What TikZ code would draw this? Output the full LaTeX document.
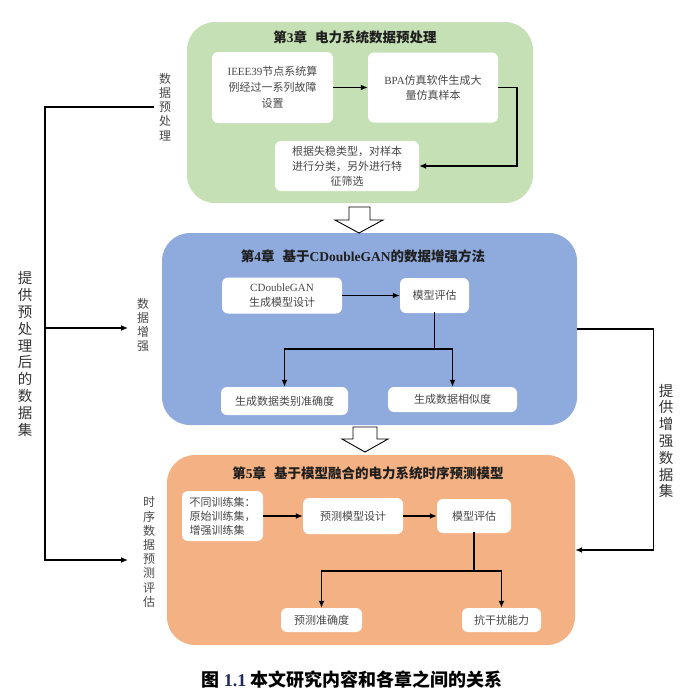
\documentclass[tikz,border=0pt]{standalone}
\usepackage{fontspec}
\setmainfont{Noto Sans CJK SC}
\newfontfamily\latfont{Liberation Serif}
\usetikzlibrary{arrows.meta}
\definecolor{grn}{HTML}{C5E0B4}
\definecolor{blu}{HTML}{8FAADC}
\definecolor{org}{HTML}{F4B183}
\definecolor{navy}{HTML}{1F2A5A}
\newcommand\lt[1]{{\latfont #1}}
\begin{document}
\begin{tikzpicture}[x=1pt,y=-1pt,
 panel/.style={rounded corners=28pt, inner sep=0pt, draw=none},
 wbox/.style={fill=white, rounded corners=6pt, inner sep=0pt, align=center, text=black!72, font=\fontsize{11}{15}\selectfont},
 ttl/.style={font=\fontsize{13.5}{16}\bfseries\selectfont, text=black!88},
 side/.style={align=center, text=black!72, font=\fontsize{12}{14.2}\selectfont, inner sep=5pt},
 bigside/.style={align=center, text=black!80, font=\fontsize{14.5}{16.8}\selectfont, inner sep=2pt},
 arr/.style={-{Latex[length=7pt,width=6pt]}, line width=1.8pt},
 ln/.style={line width=1.8pt, line cap=rect},
 oarr/.style={-{Latex[length=7pt,width=6pt]}, line width=1.4pt},
 hollow/.style={fill=white, draw=black, line width=0.9pt, line join=miter}
]
\useasboundingbox (0,0) rectangle (700,697);

% panels
\node[panel, fill=grn, minimum width=346pt, minimum height=181pt] (p3) at (360,112.5) {};
\node[panel, fill=blu, minimum width=415pt, minimum height=192pt] (p4) at (369.5,329) {};
\node[panel, fill=org, minimum width=408pt, minimum height=190pt] (p5) at (371,550) {};

% hollow arrows
\draw[hollow] (349,207) -- (370,207) -- (370,220) -- (383,220) -- (359,233) -- (335,220) -- (349,220) -- cycle;
\draw[hollow] (353,427) -- (377,427) -- (377,439) -- (388,439) -- (365,452) -- (342,439) -- (353,439) -- cycle;

% chapter 3
\node[ttl] (t3) at (355,37) {第\lt{3}章\hspace{0.6em}电力系统数据预处理};
\node[wbox, minimum width=121pt, minimum height=71pt, font=\fontsize{11}{16}\selectfont] (a) at (272.5,87.5) {\lt{IEEE39}节点系统算\\例经过一系列故障\\设置};
\node[wbox, minimum width=130pt, minimum height=70pt] (b) at (433,87.5) {\lt{BPA}仿真软件生成大\\量仿真样本};
\node[wbox, minimum width=144pt, minimum height=50pt] (c) at (347,166) {根据失稳类型，对样本\\进行分类，另外进行特\\征筛选};
\draw[arr] (a.east) -- (b.west);
\draw[arr] (b.east) -- ++(19,0) |- (c.east);

% chapter 4
\node[ttl] (t4) at (363,256) {第\lt{4}章\hspace{0.6em}基于\lt{CDoubleGAN}的数据增强方法};
\node[wbox, minimum width=120pt, minimum height=36pt] (d) at (282,295.5) {\lt{CDoubleGAN}\\生成模型设计};
\node[wbox, minimum width=69pt, minimum height=35pt] (e) at (434.5,295.5) {模型评估};
\node[wbox, minimum width=127pt, minimum height=28pt] (f) at (284.5,401) {生成数据类别准确度};
\node[wbox, minimum width=129pt, minimum height=25pt] (g) at (452.5,399.5) {生成数据相似度};
\draw[arr] (d.east) -- (e.west);
\draw[ln] (e.south) -- ++(0,36) coordinate (eb);
\draw[arr] (eb) -| (f.north);
\draw[arr] (eb) -| (g.north);

% chapter 5
\node[ttl] (t5) at (368,473) {第\lt{5}章\hspace{0.6em}基于模型融合的电力系统时序预测模型};
\node[wbox, minimum width=81pt, minimum height=50pt, align=left, font=\fontsize{11}{14}\selectfont] (h) at (222.5,516) {不同训练集：\\原始训练集，\\增强训练集};
\node[wbox, minimum width=100pt, minimum height=36pt] (i) at (353,516) {预测模型设计};
\node[wbox, minimum width=74pt, minimum height=34pt] (j) at (474,516) {模型评估};
\node[wbox, minimum width=81pt, minimum height=24pt] (k) at (321.5,620) {预测准确度};
\node[wbox, minimum width=79pt, minimum height=24pt] (l) at (501.5,620) {抗干扰能力};
\draw[arr] (h.east) -- (i.west);
\draw[arr] (i.east) -- (j.west);
\draw[ln] (j.south) -- ++(0,38) coordinate (jb);
\draw[arr] (jb) -| (k.north);
\draw[arr] (jb) -| (l.north);

% side labels
\node[side] (s3) at (165,107) {数\\据\\预\\处\\理};
\node[side] (s4) at (143,325) {数\\据\\增\\强};
\node[side] (s5) at (149,552) {时\\序\\数\\据\\预\\测\\评\\估};
\node[bigside] (bl) at (25,354) {提\\供\\预\\处\\理\\后\\的\\数\\据\\集};
\node[bigside] (br) at (666,441) {提\\供\\增\\强\\数\\据\\集};

% left connector
\coordinate (lt) at (45,107);
\coordinate (lb) at (45,560);
\coordinate (lm) at (45,328);
\coordinate (e2) at (128,328);
\coordinate (e3) at (128,560);
\draw[oarr] (s3.west) -- (lt) -- (lb) -- (e3);
\draw[oarr] (lm) -- (e2);

% right connector
\draw[oarr] (p4.east) -- ++(76,0) |- (p5.east);

% caption
\node[font=\fontsize{18}{20}\bfseries\selectfont] (cap) at (352,680) {图 {\latfont\color{navy}1.1} 本文研究内容和各章之间的关系};
\end{tikzpicture}
\end{document}
